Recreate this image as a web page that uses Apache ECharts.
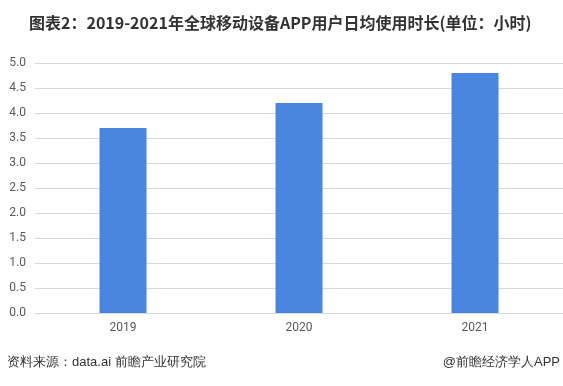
<!DOCTYPE html>
<html><head><meta charset="utf-8">
<script src="https://cdn.jsdelivr.net/npm/echarts@6/dist/echarts.min.js"></script>
<style>html,body{margin:0;padding:0;background:#fff}#c{width:563px;height:386px}</style>
</head><body><div id="c"></div>
<script>
const categories = ['2019', '2020', '2021'];
const values = [3.7, 4.2, 4.8];
const yTicks = { min: 0, max: 5, interval: 0.5 };
const titleText = '图表2：2019-2021年全球移动设备APP用户日均使用时长(单位：小时)';
const sourceText = '资料来源：data.ai 前瞻产业研究院';
const brandText = '@前瞻经济学人APP';

const chart = echarts.init(document.getElementById('c'), null, { renderer: 'canvas' });
chart.setOption({
  backgroundColor: '#fff',
  animation: false,
  textStyle: { fontFamily: '"Noto Sans CJK SC", "Noto Sans", sans-serif' },
  title: {
    text: titleText,
    left: 24, top: 10,
    textStyle: { fontSize: 16, fontWeight: 'bold', color: '#333', fontFamily: '"Noto Sans CJK SC", sans-serif' }
  },
  graphic: [
    { type: 'text', left: 7, top: 356, style: { text: sourceText, fontSize: 13, fill: '#333', font: '13px "Noto Sans CJK SC", sans-serif' } },
    { type: 'text', right: 3, top: 356, style: { text: brandText, fontSize: 13, fill: '#333', font: '13px "Noto Sans CJK SC", sans-serif' } }
  ],
  grid: { left: 35, top: 63, width: 533, height: 250, containLabel: false },
  xAxis: {
    type: 'category',
    data: categories,
    axisLine: { show: false },
    axisTick: { show: false },
    axisLabel: { color: '#595959', fontSize: 12, margin: 9, fontFamily: 'Roboto, "Liberation Sans", sans-serif' }
  },
  yAxis: {
    type: 'value',
    min: yTicks.min, max: yTicks.max, interval: yTicks.interval,
    axisLine: { show: false },
    axisTick: { show: false },
    splitLine: { lineStyle: { color: '#d9d9d9', width: 1 } },
    axisLabel: { color: '#595959', fontSize: 12, margin: 9, formatter: v => v.toFixed(1), fontFamily: 'Roboto, "Liberation Sans", sans-serif' }
  },
  series: [{
    type: 'bar',
    data: values,
    barWidth: 47,
    itemStyle: { color: '#4a86e0' }
  }]
});
</script></body></html>
